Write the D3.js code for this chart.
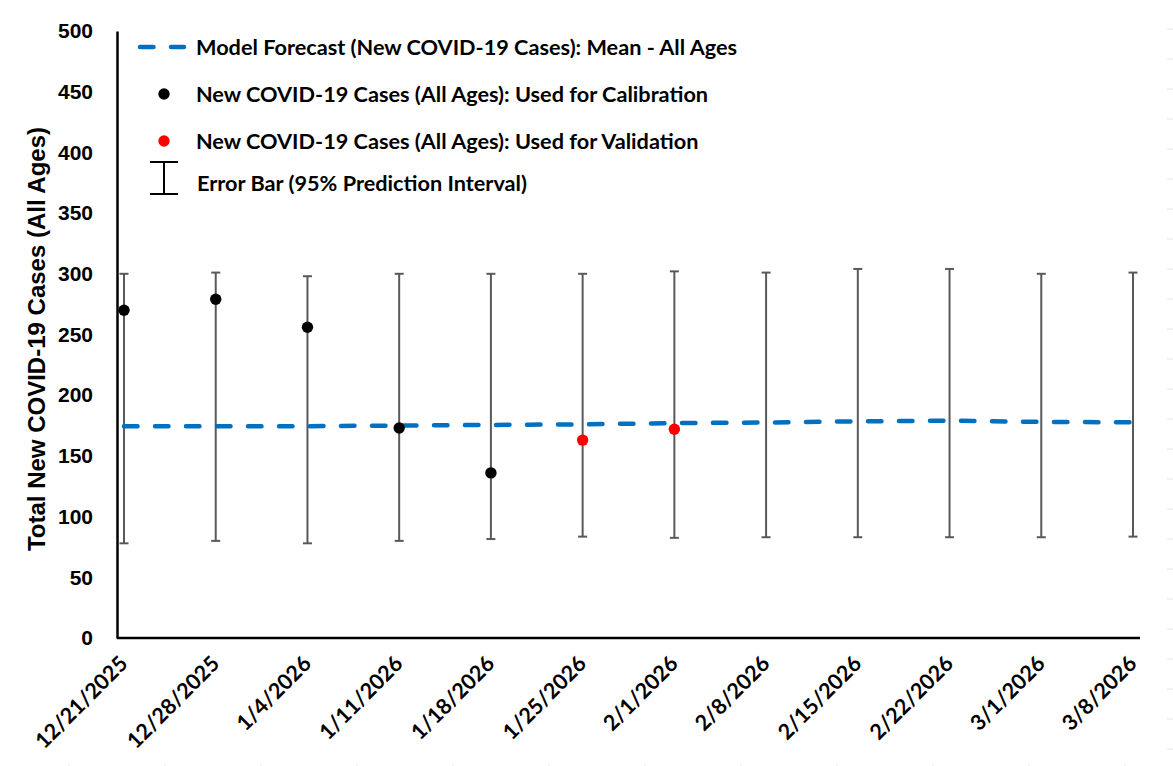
<!DOCTYPE html>
<html>
<head>
<meta charset="utf-8">
<script src="https://cdn.jsdelivr.net/npm/d3@7"></script>
<style>
  body { margin: 0; background: #fff; }
</style>
</head>
<body>
<div id="chart"></div>
<script>
const dates = ['12/21/2025', '12/28/2025', '1/4/2026', '1/11/2026', '1/18/2026', '1/25/2026',
  '2/1/2026', '2/8/2026', '2/15/2026', '2/22/2026', '3/1/2026', '3/8/2026'];
const meanForecast = [174.5, 174.5, 174.5, 175, 175.5, 176, 177, 177.5, 178.5, 179, 178, 177.7];
const upper95 = [300, 301, 298, 300, 300, 300, 302, 301, 304, 304, 300, 301];
const lower95 = [78, 80, 78, 80, 81.5, 83.5, 82.5, 83, 83, 83, 83, 83.5];
const calibDates = ['12/21/2025', '12/28/2025', '1/4/2026', '1/11/2026', '1/18/2026'];
const calibCases = [270, 279, 256, 173, 136];
const validDates = ['1/25/2026', '2/1/2026'];
const validCases = [163, 172];
const yTicks = [0, 50, 100, 150, 200, 250, 300, 350, 400, 450, 500];

document.addEventListener("DOMContentLoaded", function() {
  drawChart();
});

function drawChart() {
  const width = 1173;
  const height = 766;
  const blue = '#0070C0';
  const barColor = '#595959';
  const legendFont = 'Lato, "Open Sans", sans-serif';
  const axisFont = '"Liberation Sans", Arial, sans-serif';

  const svg = d3.select('#chart')
    .append('svg')
    .attr('width', width)
    .attr('height', height);

  const x = d3.scalePoint()
    .domain(dates)
    .range([124, 1133]);

  const y = d3.scaleLinear()
    .domain([0, 500])
    .range([638, 31]);

  // faint stray tick marks along the right and bottom edges
  svg.append('g')
    .selectAll('line')
    .data(d3.range(0, 25))
    .join('line')
      .attr('x1', 1167).attr('x2', 1173)
      .attr('y1', d => 29 + d * 30).attr('y2', d => 29 + d * 30)
      .attr('stroke', '#e6e6e6').attr('stroke-width', 1);
  svg.append('g')
    .selectAll('line')
    .data(d3.range(0, 12))
    .join('line')
      .attr('x1', d => 69 + d * 96).attr('x2', d => 69 + d * 96)
      .attr('y1', 764).attr('y2', 766)
      .attr('stroke', '#e6e6e6').attr('stroke-width', 1);

  // y axis
  const yAxis = svg.append('g')
    .attr('transform', 'translate(117,0)')
    .call(d3.axisLeft(y).tickValues(yTicks).tickSize(0).tickPadding(24));
  yAxis.select('.domain').attr('stroke', '#000').attr('stroke-width', 2.5);
  yAxis.selectAll('text')
    .attr('font-family', axisFont)
    .attr('font-weight', 'bold')
    .attr('font-size', '21px')
    .attr('fill', '#000');

  // x axis
  const xAxis = svg.append('g')
    .attr('transform', 'translate(0,638)');
  xAxis.append('line')
    .attr('x1', 117).attr('x2', 1140)
    .attr('stroke', '#000').attr('stroke-width', 2.7);
  xAxis.selectAll('text')
    .data(dates)
    .join('text')
      .attr('transform', d => `translate(${x(d) + 5},27) rotate(-45)`)
      .attr('text-anchor', 'end')
      .attr('font-family', legendFont)
      .attr('font-weight', 'bold')
      .attr('font-size', '21.5px')
      .attr('fill', '#000')
      .text(d => d);

  // y title
  svg.append('text')
    .attr('transform', 'translate(45,339) rotate(-90)')
    .attr('text-anchor', 'middle')
    .attr('font-family', axisFont)
    .attr('font-weight', 'bold')
    .attr('font-size', '24px')
    .text('Total New COVID-19 Cases (All Ages)');

  // error bars
  const bars = svg.append('g')
    .attr('stroke', barColor)
    .attr('stroke-width', 2);
  bars.selectAll('line.v')
    .data(dates)
    .join('line')
      .attr('class', 'v')
      .attr('x1', d => x(d)).attr('x2', d => x(d))
      .attr('y1', (d, i) => y(upper95[i]))
      .attr('y2', (d, i) => y(lower95[i]));
  bars.selectAll('line.top')
    .data(dates)
    .join('line')
      .attr('class', 'top')
      .attr('x1', d => x(d) - 4.5).attr('x2', d => x(d) + 4.5)
      .attr('y1', (d, i) => y(upper95[i]))
      .attr('y2', (d, i) => y(upper95[i]));
  bars.selectAll('line.bot')
    .data(dates)
    .join('line')
      .attr('class', 'bot')
      .attr('x1', d => x(d) - 4.5).attr('x2', d => x(d) + 4.5)
      .attr('y1', (d, i) => y(lower95[i]))
      .attr('y2', (d, i) => y(lower95[i]));

  // mean forecast line
  const line = d3.line()
    .x((d, i) => x(dates[i]))
    .y(d => y(d));
  svg.append('path')
    .datum(meanForecast)
    .attr('d', line)
    .attr('fill', 'none')
    .attr('stroke', blue)
    .attr('stroke-width', 4.5)
    .attr('stroke-linecap', 'round')
    .attr('stroke-dasharray', '13.5,17.5');

  // observed points
  svg.append('g')
    .selectAll('circle')
    .data(calibCases)
    .join('circle')
      .attr('cx', (d, i) => x(calibDates[i]))
      .attr('cy', d => y(d))
      .attr('r', 5.7)
      .attr('fill', '#000');
  svg.append('g')
    .selectAll('circle')
    .data(validCases)
    .join('circle')
      .attr('cx', (d, i) => x(validDates[i]))
      .attr('cy', d => y(d))
      .attr('r', 5.7)
      .attr('fill', '#ff0000');

  // legend
  const legend = svg.append('g')
    .attr('font-family', legendFont)
    .attr('font-weight', 'bold')
    .attr('font-size', '21.7px')
    .attr('fill', '#000');

  legend.append('line')
    .attr('x1', 140).attr('x2', 184)
    .attr('y1', 47).attr('y2', 47)
    .attr('stroke', blue)
    .attr('stroke-width', 4.5)
    .attr('stroke-linecap', 'round')
    .attr('stroke-dasharray', '13.5,17.5');
  legend.append('text')
    .attr('x', 196).attr('y', 47).attr('dy', '0.35em')
    .text('Model Forecast (New COVID-19 Cases): Mean - All Ages');

  legend.append('circle')
    .attr('cx', 164).attr('cy', 94).attr('r', 5.7).attr('fill', '#000');
  legend.append('text')
    .attr('x', 196).attr('y', 94).attr('dy', '0.35em')
    .text('New COVID-19 Cases (All Ages): Used for Calibration');

  legend.append('circle')
    .attr('cx', 164).attr('cy', 141).attr('r', 5.7).attr('fill', '#ff0000');
  legend.append('text')
    .attr('x', 196).attr('y', 141).attr('dy', '0.35em')
    .text('New COVID-19 Cases (All Ages): Used for Validation');

  const eb = legend.append('g')
    .attr('stroke', '#000')
    .attr('stroke-width', 2);
  eb.append('line').attr('x1', 164).attr('x2', 164).attr('y1', 162).attr('y2', 194);
  eb.append('line').attr('x1', 150).attr('x2', 178).attr('y1', 162).attr('y2', 162);
  eb.append('line').attr('x1', 150).attr('x2', 178).attr('y1', 194).attr('y2', 194);
  legend.append('text')
    .attr('x', 197).attr('y', 183).attr('dy', '0.35em')
    .text('Error Bar (95% Prediction Interval)');
}
</script>
</body>
</html>
